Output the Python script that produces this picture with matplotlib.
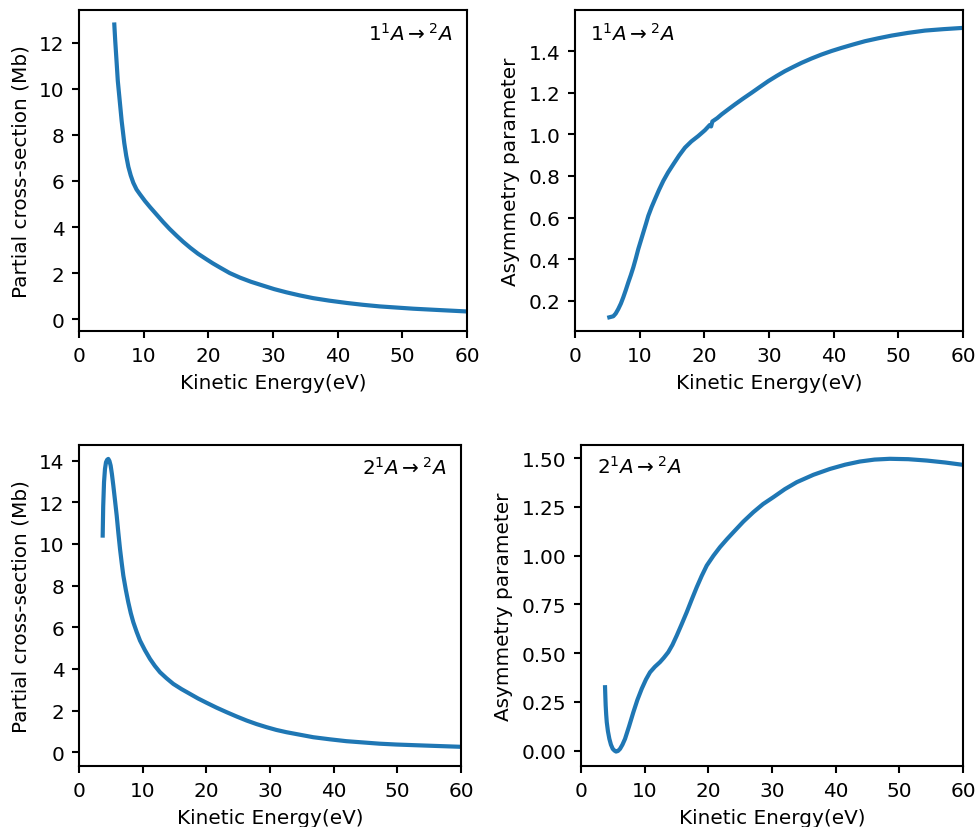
import matplotlib
matplotlib.use("Agg")
import matplotlib.pyplot as plt
from matplotlib.ticker import MultipleLocator

plt.rcParams["font.size"] = 9.6
plt.rcParams["axes.linewidth"] = 1.0
plt.rcParams["xtick.major.width"] = 1.0
plt.rcParams["ytick.major.width"] = 1.0

# photoionisation results, 1^1A -> ^2A channel
e_11 = [5.46, 5.6, 5.83, 6.0, 6.24, 6.6, 7.0, 7.3, 7.63, 8.0, 8.4, 8.9, 9.43, 10.2,
        11.0, 12.0, 13.0, 14.0, 15.1, 16.1, 17.2, 18.4, 19.7, 20.7, 21.8, 23.3,
        24.9, 26.6, 28.5, 30.2, 32.1, 34.1, 36.2, 38.7, 41.4, 43.9, 46.5, 49.1,
        51.7, 55.8, 60.0]
sigma_11 = [12.8, 12.1, 11.1, 10.35, 9.65, 8.6, 7.65, 7.1, 6.62, 6.24, 5.92, 5.63, 5.42,
            5.13, 4.86, 4.54, 4.22, 3.92, 3.62, 3.36, 3.1, 2.84, 2.6, 2.42, 2.24, 2.0,
            1.8, 1.62, 1.45, 1.3, 1.16, 1.03, 0.91, 0.8, 0.7, 0.62, 0.55, 0.5,
            0.45, 0.39, 0.33]

e_11_beta = [5.31, 5.93, 6.3, 6.7, 7.1, 7.47, 7.85, 8.25, 8.65, 9.02, 9.4, 9.79, 10.2,
             10.57, 11.0, 11.34, 11.85, 12.37, 13.0, 13.66, 14.4, 15.21, 16.1, 17.01,
             18.0, 19.07, 20.1, 20.85, 21.05, 21.25, 22.0, 22.68, 23.7, 24.74, 26.0,
             27.32, 28.6, 29.9, 31.2, 32.47, 33.8, 35.05, 36.6, 38.14, 39.7, 41.24,
             43.0, 44.85, 46.9, 48.97, 51.5, 54.12, 57.0, 60.0]
beta_11 = [0.12, 0.125, 0.138, 0.16, 0.186, 0.216, 0.25, 0.288, 0.324, 0.36, 0.402, 0.448, 0.49,
           0.528, 0.572, 0.608, 0.65, 0.688, 0.733, 0.776, 0.817, 0.856, 0.898, 0.936,
           0.966, 0.992, 1.02, 1.045, 1.038, 1.062, 1.078, 1.096, 1.12, 1.144, 1.172,
           1.2, 1.228, 1.256, 1.281, 1.304, 1.325, 1.344, 1.365, 1.384, 1.401, 1.416,
           1.432, 1.448, 1.462, 1.475, 1.488, 1.499, 1.506, 1.512]

# 2^1A -> ^2A channel
e_21 = [3.72, 3.8, 3.93, 4.08, 4.24, 4.42, 4.6, 4.78, 4.97, 5.17, 5.39, 5.65, 5.92, 6.17,
        6.44, 6.7, 6.96, 7.35, 7.74, 8.13, 8.53, 9.05, 9.58, 10.35, 11.15, 11.9, 12.72,
        13.75, 14.81, 16.1, 17.43, 18.7, 20.06, 21.6, 23.2, 24.8, 26.34, 27.9,
        29.48, 31.0, 32.6, 34.7, 36.8, 39.4, 42.0, 44.6, 47.2, 49.8, 52.5, 56.2, 60.0]
sigma_21 = [10.4, 11.8, 12.96, 13.6, 13.92, 14.04, 14.08, 13.98, 13.76, 13.35, 12.8, 12.1, 11.36, 10.56,
            9.76, 9.1, 8.48, 7.8, 7.2, 6.68, 6.24, 5.78, 5.36, 4.9, 4.48, 4.15, 3.84,
            3.55, 3.28, 3.03, 2.8, 2.58, 2.37, 2.14, 1.92, 1.71, 1.52, 1.35,
            1.2, 1.07, 0.96, 0.84, 0.72, 0.62, 0.53, 0.47, 0.41, 0.37, 0.34, 0.3, 0.26]

e_21_beta = [3.77, 3.82, 3.87, 3.95, 4.04, 4.22, 4.45, 4.7, 4.98, 5.25, 5.5, 5.8, 6.13,
             6.5, 6.91, 7.55, 8.22, 8.85, 9.53, 10.2, 10.84, 11.6, 12.4, 13.0, 13.7,
             14.35, 15.03, 15.8, 16.6, 17.4, 18.17, 18.95, 19.74, 20.8, 21.83, 22.9,
             23.92, 25.5, 27.06, 28.6, 30.2, 32.0, 33.88, 36.5, 39.1, 41.5, 43.8,
             46.1, 48.5, 51.4, 54.3, 57.2, 60.0]
beta_21 = [0.325, 0.275, 0.231, 0.185, 0.146, 0.1, 0.06, 0.03, 0.009, 0.0, -0.005, -0.002, 0.009,
           0.03, 0.06, 0.125, 0.197, 0.26, 0.317, 0.365, 0.402, 0.43, 0.454, 0.476, 0.505,
           0.542, 0.59, 0.648, 0.71, 0.776, 0.838, 0.896, 0.949, 1.0, 1.044, 1.084,
           1.12, 1.175, 1.223, 1.265, 1.3, 1.341, 1.377, 1.415, 1.445, 1.467, 1.483,
           1.493, 1.497, 1.495, 1.488, 1.478, 1.466]

label_11 = r"$1^1A \rightarrow {}^2A$"
label_21 = r"$2^1A \rightarrow {}^2A$"

fig = plt.figure(figsize=(9.79 / 1.5, 8.28 / 1.5), dpi=150)


def panel(rect, x, y, ylabel, label, ylim, ystep, label_pos, ha):
    ax = fig.add_axes(rect)
    ax.plot(x, y, color="#1f77b4", lw=2)
    ax.set_xlim(0, 60)
    ax.set_ylim(*ylim)
    ax.xaxis.set_major_locator(MultipleLocator(10))
    ax.yaxis.set_major_locator(MultipleLocator(ystep))
    ax.set_xlabel("Kinetic Energy(eV)")
    ax.set_ylabel(ylabel)
    ax.text(label_pos[0], label_pos[1], label, transform=ax.transAxes,
            ha=ha, va="center")
    return ax


ax1 = panel([0.0807, 0.599, 0.3963, 0.3877], e_11, sigma_11,
            "Partial cross-section (Mb)", label_11, (-0.52, 13.43), 2,
            (0.962, 0.93), "right")
ax2 = panel([0.5873, 0.599, 0.3963, 0.3877], e_11_beta, beta_11,
            "Asymmetry parameter", label_11, (0.054, 1.598), 0.2,
            (0.039, 0.93), "left")
ax3 = panel([0.0807, 0.0737, 0.3902, 0.3877], e_21, sigma_21,
            "Partial cross-section (Mb)", label_21, (-0.66, 14.75), 2,
            (0.961, 0.931), "right")
ax4 = panel([0.5935, 0.0737, 0.3902, 0.3877], e_21_beta, beta_21,
            "Asymmetry parameter", label_21, (-0.079, 1.568), 0.25,
            (0.042, 0.934), "left")

fig.savefig("out.png", dpi=150)
